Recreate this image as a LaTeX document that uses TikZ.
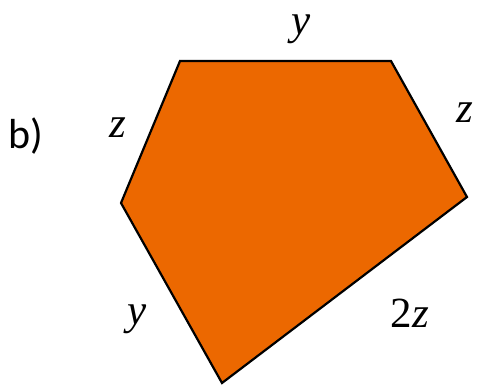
\documentclass[tikz,border=0pt]{standalone}
\usepackage{fontspec}
\setmainfont{Liberation Serif}
\newfontfamily\tagfont{Carlito}
\usetikzlibrary{positioning}
\definecolor{plate}{RGB}{236,104,0}

\begin{document}
\begin{tikzpicture}[
  x=0.5pt, y=-0.5pt,
  plate/.style={fill=plate, draw=black, line width=1.1pt, line join=miter},
  side/.style={font=\fontsize{21.5}{21.5}\selectfont\itshape, inner sep=0pt},
  tag/.style={font=\fontsize{21}{21}\selectfont\tagfont, inner sep=0pt}
]
\useasboundingbox (0,0) rectangle (477,385);

\coordinate (tl) at (180,61);
\coordinate (tr) at (391,61);
\coordinate (rt) at (467,197);
\coordinate (bt) at (222,383);
\coordinate (lf) at (121,203);

\filldraw[plate] (tl) -- (tr) -- (rt) -- (bt) -- (lf) -- cycle;

\node[tag] (part) at (26,136) {b)};
\node[side] (ytop) at (301,29) {y};
\node[side] (zleft) at (118,128) {z};
\node[side] (zright) at (465,113) {z};
\node[side] (ybot) at (137,319) {y};
\node[side] (twoz) at (410,313) {\upshape 2\itshape z};
\end{tikzpicture}
\end{document}
